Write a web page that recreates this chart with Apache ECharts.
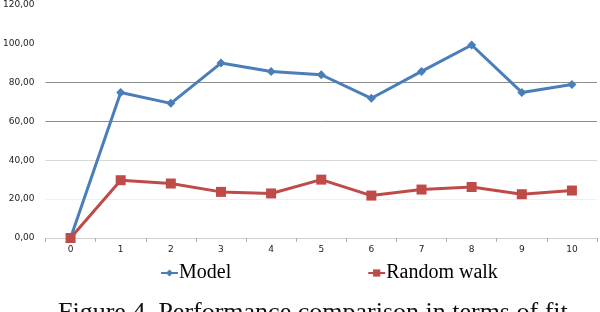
<!DOCTYPE html>
<html><head><meta charset="utf-8">
<script src="https://cdn.jsdelivr.net/npm/echarts@6/dist/echarts.min.js"></script>
<style>html,body{margin:0;padding:0;background:#fff}#c{width:600px;height:312px}</style>
</head><body><div id="c"></div>
<script>
var categories = ['0','1','2','3','4','5','6','7','8','9','10'];
var modelValues = [0, 74.8, 69.2, 89.9, 85.6, 83.9, 71.8, 85.6, 99.2, 74.8, 78.9];
var randomWalkValues = [0, 29.7, 28.0, 23.7, 22.9, 30.0, 21.8, 24.9, 26.2, 22.5, 24.4];
var yTicks = [0, 20, 40, 60, 80, 100, 120];
var seriesNames = ['Model', 'Random walk'];
var captionText = 'Figure 4. Performance comparison in terms of fit';

var chart = echarts.init(document.getElementById('c'), null, {renderer: 'canvas'});
chart.setOption({
  animation: false,
  backgroundColor: '#fff',
  grid: {left: 44, right: 3, top: 4, bottom: 74, containLabel: false},
  legend: {
    data: seriesNames,
    left: 155, top: 258,
    itemWidth: 17, itemHeight: 9, itemGap: 136,
    textStyle: {fontFamily: 'Liberation Serif', fontSize: 20, color: '#000', padding: [0,0,0,-4]}
  },
  xAxis: {
    type: 'category', data: categories, boundaryGap: true,
    axisLine: {lineStyle: {color: '#d0d0d0', width: 1}},
    axisTick: {show: true, length: 4, lineStyle: {color: '#b0b0b0'}},
    axisLabel: {fontFamily: 'DejaVu Sans', fontSize: 9, color: '#222', margin: 7}
  },
  yAxis: {
    type: 'value', min: yTicks[0], max: yTicks[yTicks.length-1], interval: 20,
    axisLine: {show: false}, axisTick: {show: false},
    axisLabel: {fontFamily: 'DejaVu Sans', fontSize: 9, color: '#222', margin: 11,
      formatter: function(v){ return v.toFixed(2).replace('.', ','); }},
    splitLine: {lineStyle: {color: ['#d8d8d8','#efefef','#d8d8d8','#8c8c8c','#8c8c8c','#ffffff','#ffffff'], width: 1}}
  },
  series: [
    {name: seriesNames[0], type: 'line', data: modelValues, symbol: 'diamond', symbolSize: 9,
     lineStyle: {color: '#4a7ebb', width: 3}, itemStyle: {color: '#4a7ebb'}, z: 3},
    {name: seriesNames[1], type: 'line', data: randomWalkValues, symbol: 'rect', symbolSize: 10,
     lineStyle: {color: '#be4b48', width: 3}, itemStyle: {color: '#be4b48'}, z: 4}
  ],
  graphic: [{
    type: 'text', left: 58, top: 300,
    style: {text: captionText, fontFamily: 'Liberation Serif', fontSize: 26, fill: '#111'}
  }]
});
</script></body></html>
